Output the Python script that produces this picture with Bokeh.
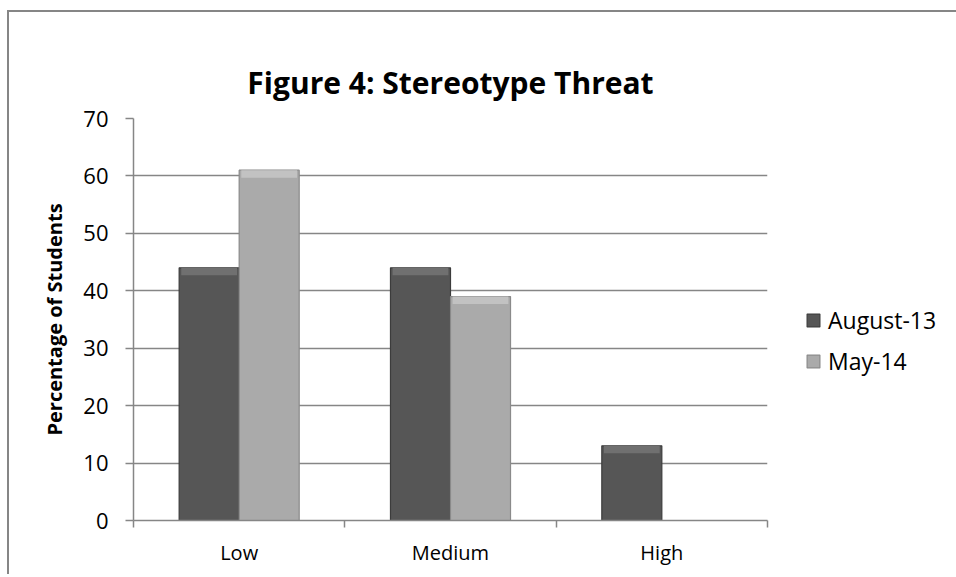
from bokeh.plotting import figure
from bokeh.models import (Range1d, FixedTicker, Legend, LegendItem, ColumnDataSource)
from bokeh.embed import file_html
from bokeh.resources import INLINE

# ---- data ----
categories = ["Low", "Medium", "High"]
august_13 = [44, 44, 13]
may_14 = [61, 39, 0]
series_names = ["August-13", "May-14"]
y_ticks = [0, 10, 20, 30, 40, 50, 60, 70]
title_text = "Figure 4: Stereotype Threat"
y_label = "Percentage of Students"

FONT = "Open Sans"
GREY = "#868686"

p = figure(frame_width=634, frame_height=402,
           min_border_left=124, min_border_right=186,
           min_border_top=106, min_border_bottom=54,
           output_backend="svg", toolbar_location=None,
           x_range=Range1d(0, len(categories)), y_range=Range1d(0, 70))

# outer chart border (top and left edges)
p.styles = {"border-top": "2px solid #868686", "border-left": "2px solid #868686",
            "margin-top": "10px", "margin-left": "7px"}

p.outline_line_color = None
p.background_fill_color = "white"
p.border_fill_color = "white"

# title
p.title.text = title_text
p.title.align = "center"
p.title.text_font = FONT
p.title.text_font_size = "30px"
p.title.text_font_style = "bold"
p.title.text_color = "black"
p.title.standoff = 31

bw = 0.284
centers = [i + 0.5 for i in range(len(categories))]
series = [
    (august_13, -bw / 2, "#565656", "#3c3c3c", "#707070"),
    (may_14, bw / 2, "#aaaaaa", "#8a8a8a", "#c2c2c2"),
]
legend_items = []
for (vals, off, fill, edge, hi), name in zip(series, series_names):
    xs = [c + off for c in centers]
    band_b = [max(v - 1.3, 0) for v in vals]
    src = ColumnDataSource(dict(x=xs, top=vals, band_b=band_b))
    r = p.vbar(x="x", top="top", bottom=0, width=bw, source=src,
               fill_color=fill, line_color=edge, line_width=1.2)
    p.vbar(x="x", top="top", bottom="band_b", width=bw * 0.93, source=src,
           fill_color=hi, line_color=None)
    legend_items.append(LegendItem(label=name, renderers=[r]))

# axes
p.xaxis.ticker = FixedTicker(ticks=centers, minor_ticks=list(range(len(categories) + 1)))
p.xaxis.major_label_overrides = {c: name for c, name in zip(centers, categories)}
p.xaxis.major_tick_line_color = None
p.xaxis.minor_tick_line_color = GREY
p.xaxis.minor_tick_line_width = 1.5
p.xaxis.minor_tick_out = 7
p.xaxis.minor_tick_in = 0
p.xaxis.axis_line_color = GREY
p.xaxis.axis_line_width = 1.5
p.xaxis.major_label_text_font = FONT
p.xaxis.major_label_text_font_size = "20px"
p.xaxis.major_label_text_color = "black"
p.xaxis.major_label_standoff = 11
p.xgrid.visible = False

p.yaxis.ticker = FixedTicker(ticks=y_ticks)
p.yaxis.minor_tick_line_color = None
p.yaxis.major_tick_line_color = GREY
p.yaxis.major_tick_line_width = 1.5
p.yaxis.major_tick_out = 8
p.yaxis.major_tick_in = 0
p.yaxis.axis_line_color = GREY
p.yaxis.axis_line_width = 1.5
p.yaxis.major_label_text_font = FONT
p.yaxis.major_label_text_font_size = "22px"
p.yaxis.major_label_text_color = "black"
p.yaxis.major_label_standoff = 17
p.yaxis.axis_label = y_label
p.yaxis.axis_label_text_font = FONT
p.yaxis.axis_label_text_font_size = "20px"
p.yaxis.axis_label_text_font_style = "bold"
p.yaxis.axis_label_text_color = "black"
p.yaxis.axis_label_standoff = 12
p.ygrid.ticker = FixedTicker(ticks=y_ticks)
p.ygrid.grid_line_color = GREY
p.ygrid.grid_line_width = 1.5

legend = Legend(items=legend_items, location=(38, 143),
                label_text_font=FONT, label_text_font_size="23px",
                label_text_color="black", glyph_width=16, glyph_height=16,
                spacing=9, padding=0, margin=0, border_line_color=None,
                background_fill_alpha=0, label_standoff=7)
p.add_layout(legend, "right")

open("out.html", "w").write(file_html(p, INLINE))
